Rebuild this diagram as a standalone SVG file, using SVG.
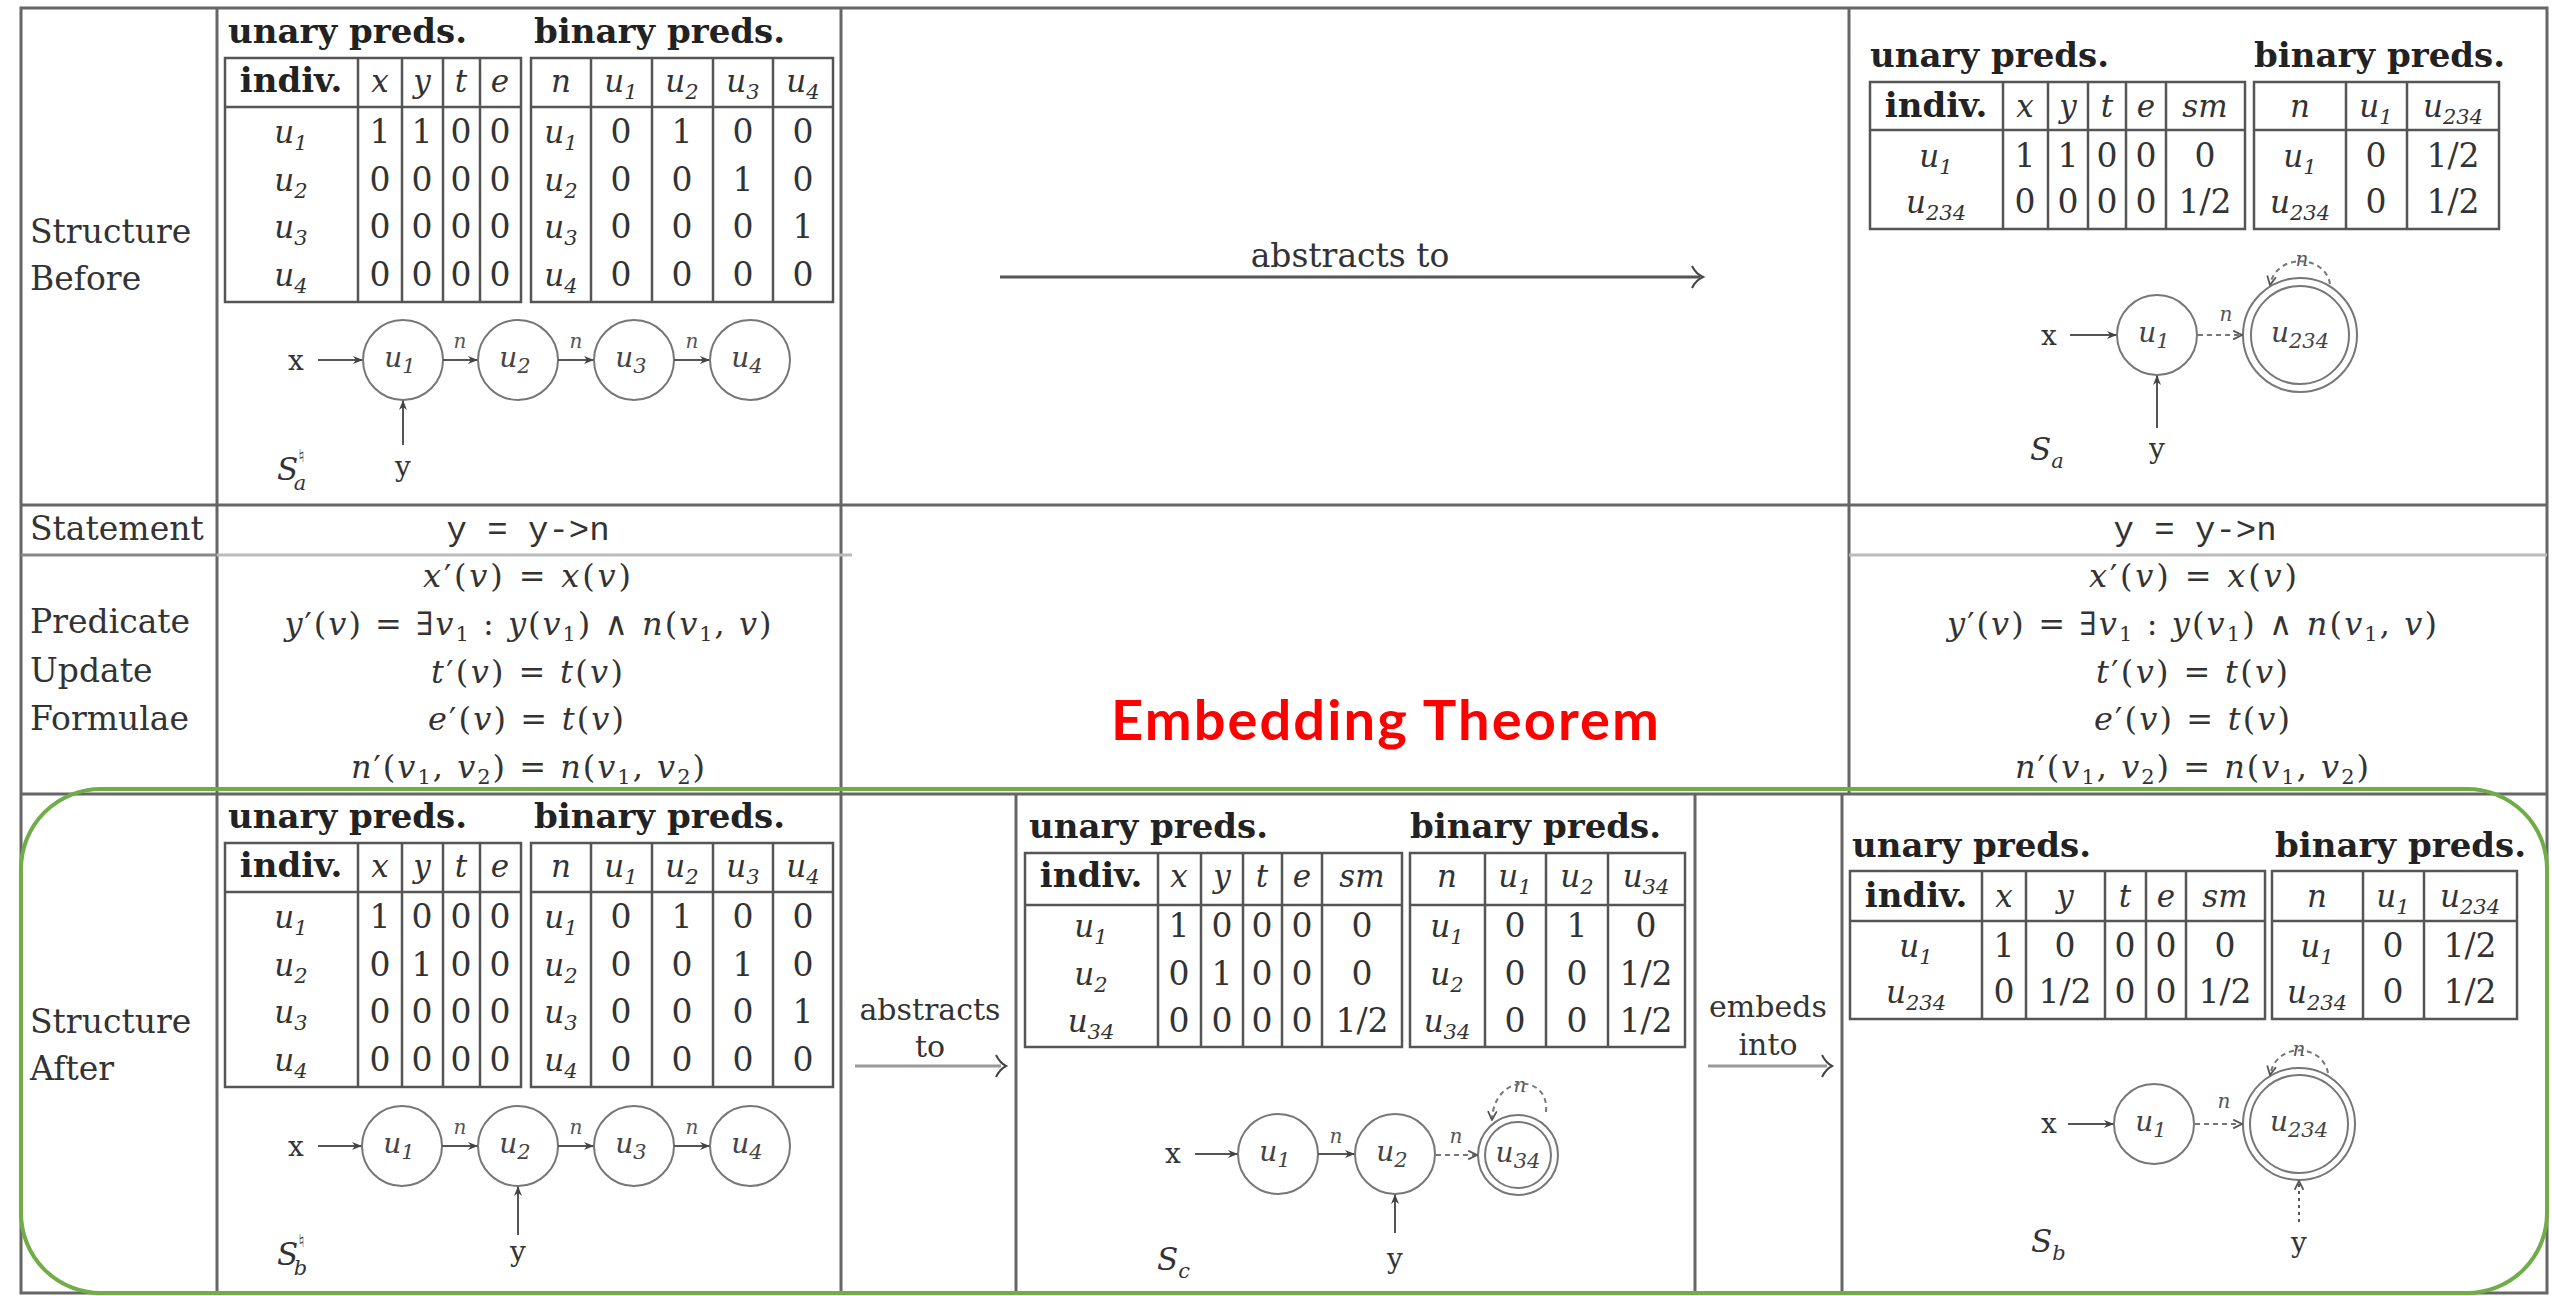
<svg xmlns="http://www.w3.org/2000/svg" width="2552" height="1296" viewBox="0 0 2552 1296">
<defs>
<style>
.grid{stroke:#666;stroke-width:3;fill:none}
.lg{stroke:#bbb;stroke-width:3;fill:none}
.tb{stroke:#555;stroke-width:2.5;fill:none}
.t{font-family:'DejaVu Serif',serif;font-size:33px;fill:#333}
.h{font-family:'DejaVu Serif',serif;font-size:34px;font-weight:bold;fill:#222}
.m{font-family:'DejaVu Serif',serif;font-style:italic;font-size:31px;fill:#333}
.f{font-family:'DejaVu Serif',serif;font-size:32px;fill:#333;text-anchor:middle}
.i{font-style:italic}
.s{font-size:21px}
.c{text-anchor:middle}
.r2{font-size:30px}
.d{font-family:'DejaVu Serif',serif;font-size:33px;fill:#333;text-anchor:middle}
.tt{font-family:'Liberation Mono',monospace;font-size:34px;fill:#333;text-anchor:middle}
.node{fill:none;stroke:#777;stroke-width:2}
.nl{font-family:'DejaVu Serif',serif;font-style:italic;font-size:28px;fill:#444;text-anchor:middle}
.gl{font-family:'DejaVu Serif',serif;font-size:28px;fill:#333;text-anchor:middle}
.el{font-family:'DejaVu Serif',serif;font-style:italic;font-size:20px;fill:#555;text-anchor:middle;paint-order:stroke;stroke:#fff;stroke-width:4px}
.edge{stroke:#555;stroke-width:2;fill:none}
.dash{stroke-dasharray:5 4;stroke:#777}
.big{stroke:#555;stroke-width:3;fill:none}
.bigl{stroke:#999;stroke-width:3;fill:none}
.head{stroke:#444;stroke-width:2;fill:none}
</style>
<marker id="ah" viewBox="0 0 10 10" refX="9" refY="5" markerWidth="10" markerHeight="10" markerUnits="userSpaceOnUse" orient="auto"><path d="M0,1 L10,5 L0,9 L3,5 z" fill="#444"/></marker>
<marker id="ao" viewBox="0 0 10 10" refX="9" refY="5" markerWidth="11" markerHeight="11" markerUnits="userSpaceOnUse" orient="auto"><path d="M1,1 L9,5 L1,9" fill="none" stroke="#555" stroke-width="1.6"/></marker>
</defs>
<rect width="2552" height="1296" fill="#fff"/>

<g id="grid">
<rect class="grid" x="21" y="8" width="2526" height="1285"/>
<path class="grid" d="M217 8V1293M841 8V1293M1849 8V794M21 505H2547M21 794H2547M1016 794V1293M1695 794V1293M1842 794V1293"/>
<path d="M21 555H217" stroke="#888" stroke-width="3"/>
<path class="lg" d="M217 555H852M1849 555H2547"/>
</g>

<g id="labels">
<text class="t" x="30" y="243">Structure</text>
<text class="t" x="30" y="290">Before</text>
<text class="t" x="30" y="540">Statement</text>
<text class="t" x="30" y="633">Predicate</text>
<text class="t" x="30" y="682">Update</text>
<text class="t" x="30" y="730">Formulae</text>
<text class="t" x="30" y="1033">Structure</text>
<text class="t" x="30" y="1080">After</text>
</g>

<g id="tbl-before-nat">
<text class="h" x="228" y="43">unary preds.</text>
<text class="h" x="534" y="43">binary preds.</text>
<rect class="tb" x="225" y="58" width="296" height="244"/>
<path class="tb" d="M225 107H521M358 58V302M402 58V302M443 58V302M480 58V302"/>
<rect class="tb" x="531" y="58" width="302" height="244"/>
<path class="tb" d="M531 107H833M591 58V302M652 58V302M713 58V302M773 58V302"/>
<text class="h c" x="291" y="92">indiv.</text>
<text class="m c" y="92"><tspan x="380">x</tspan><tspan x="422">y</tspan><tspan x="461">t</tspan><tspan x="500">e</tspan><tspan x="561">n</tspan></text>
<text class="m c"><tspan x="621" y="92">u<tspan class="s" dy="7">1</tspan></tspan><tspan x="682" y="92">u<tspan class="s" dy="7">2</tspan></tspan><tspan x="743" y="92">u<tspan class="s" dy="7">3</tspan></tspan><tspan x="803" y="92">u<tspan class="s" dy="7">4</tspan></tspan></text>
<text class="m c"><tspan x="291" y="143">u<tspan class="s" dy="7">1</tspan></tspan><tspan x="561" y="143">u<tspan class="s" dy="7">1</tspan></tspan><tspan x="291" y="191">u<tspan class="s" dy="7">2</tspan></tspan><tspan x="561" y="191">u<tspan class="s" dy="7">2</tspan></tspan><tspan x="291" y="238">u<tspan class="s" dy="7">3</tspan></tspan><tspan x="561" y="238">u<tspan class="s" dy="7">3</tspan></tspan><tspan x="291" y="286">u<tspan class="s" dy="7">4</tspan></tspan><tspan x="561" y="286">u<tspan class="s" dy="7">4</tspan></tspan></text>
<text class="d" y="143"><tspan x="380">1</tspan><tspan x="422">1</tspan><tspan x="461">0</tspan><tspan x="500">0</tspan><tspan x="621">0</tspan><tspan x="682">1</tspan><tspan x="743">0</tspan><tspan x="803">0</tspan></text>
<text class="d" y="191"><tspan x="380">0</tspan><tspan x="422">0</tspan><tspan x="461">0</tspan><tspan x="500">0</tspan><tspan x="621">0</tspan><tspan x="682">0</tspan><tspan x="743">1</tspan><tspan x="803">0</tspan></text>
<text class="d" y="238"><tspan x="380">0</tspan><tspan x="422">0</tspan><tspan x="461">0</tspan><tspan x="500">0</tspan><tspan x="621">0</tspan><tspan x="682">0</tspan><tspan x="743">0</tspan><tspan x="803">1</tspan></text>
<text class="d" y="286"><tspan x="380">0</tspan><tspan x="422">0</tspan><tspan x="461">0</tspan><tspan x="500">0</tspan><tspan x="621">0</tspan><tspan x="682">0</tspan><tspan x="743">0</tspan><tspan x="803">0</tspan></text>
</g>

<g id="graph-before-nat">
<g id="n-b-u1"><circle class="node" cx="403" cy="360" r="40"/><text class="nl" x="400" y="367">u<tspan class="s" dy="6">1</tspan></text></g>
<g id="n-b-u2"><circle class="node" cx="518" cy="360" r="40"/><text class="nl" x="515" y="367">u<tspan class="s" dy="6">2</tspan></text></g>
<g id="n-b-u3"><circle class="node" cx="634" cy="360" r="40"/><text class="nl" x="631" y="367">u<tspan class="s" dy="6">3</tspan></text></g>
<g id="n-b-u4"><circle class="node" cx="750" cy="360" r="40"/><text class="nl" x="747" y="367">u<tspan class="s" dy="6">4</tspan></text></g>
<text class="gl" x="296" y="370">x</text>
<text class="gl" x="403" y="476">y</text>
<text class="m" x="277" y="480" font-size="34">S<tspan font-size="18" font-style="normal" dy="-18">♮</tspan><tspan class="s" dx="-11" dy="28">a</tspan></text>
<text class="el" x="460" y="348">n</text><text class="el" x="576" y="348">n</text><text class="el" x="692" y="348">n</text>
</g>

<g id="tbl-after-nat" transform="translate(0,785)">
<text class="h" x="228" y="43">unary preds.</text>
<text class="h" x="534" y="43">binary preds.</text>
<rect class="tb" x="225" y="58" width="296" height="244"/>
<path class="tb" d="M225 107H521M358 58V302M402 58V302M443 58V302M480 58V302"/>
<rect class="tb" x="531" y="58" width="302" height="244"/>
<path class="tb" d="M531 107H833M591 58V302M652 58V302M713 58V302M773 58V302"/>
<text class="h c" x="291" y="92">indiv.</text>
<text class="m c" y="92"><tspan x="380">x</tspan><tspan x="422">y</tspan><tspan x="461">t</tspan><tspan x="500">e</tspan><tspan x="561">n</tspan></text>
<text class="m c"><tspan x="621" y="92">u<tspan class="s" dy="7">1</tspan></tspan><tspan x="682" y="92">u<tspan class="s" dy="7">2</tspan></tspan><tspan x="743" y="92">u<tspan class="s" dy="7">3</tspan></tspan><tspan x="803" y="92">u<tspan class="s" dy="7">4</tspan></tspan></text>
<text class="m c"><tspan x="291" y="143">u<tspan class="s" dy="7">1</tspan></tspan><tspan x="561" y="143">u<tspan class="s" dy="7">1</tspan></tspan><tspan x="291" y="191">u<tspan class="s" dy="7">2</tspan></tspan><tspan x="561" y="191">u<tspan class="s" dy="7">2</tspan></tspan><tspan x="291" y="238">u<tspan class="s" dy="7">3</tspan></tspan><tspan x="561" y="238">u<tspan class="s" dy="7">3</tspan></tspan><tspan x="291" y="286">u<tspan class="s" dy="7">4</tspan></tspan><tspan x="561" y="286">u<tspan class="s" dy="7">4</tspan></tspan></text>
<text class="d" y="143"><tspan x="380">1</tspan><tspan x="422">0</tspan><tspan x="461">0</tspan><tspan x="500">0</tspan><tspan x="621">0</tspan><tspan x="682">1</tspan><tspan x="743">0</tspan><tspan x="803">0</tspan></text>
<text class="d" y="191"><tspan x="380">0</tspan><tspan x="422">1</tspan><tspan x="461">0</tspan><tspan x="500">0</tspan><tspan x="621">0</tspan><tspan x="682">0</tspan><tspan x="743">1</tspan><tspan x="803">0</tspan></text>
<text class="d" y="238"><tspan x="380">0</tspan><tspan x="422">0</tspan><tspan x="461">0</tspan><tspan x="500">0</tspan><tspan x="621">0</tspan><tspan x="682">0</tspan><tspan x="743">0</tspan><tspan x="803">1</tspan></text>
<text class="d" y="286"><tspan x="380">0</tspan><tspan x="422">0</tspan><tspan x="461">0</tspan><tspan x="500">0</tspan><tspan x="621">0</tspan><tspan x="682">0</tspan><tspan x="743">0</tspan><tspan x="803">0</tspan></text>
</g>

<g id="graph-after-nat" transform="translate(0,785)">
<g id="n-a-u1"><circle class="node" cx="402" cy="361" r="40"/><text class="nl" x="399" y="368">u<tspan class="s" dy="6">1</tspan></text></g>
<g id="n-a-u2"><circle class="node" cx="518" cy="361" r="40"/><text class="nl" x="515" y="368">u<tspan class="s" dy="6">2</tspan></text></g>
<g id="n-a-u3"><circle class="node" cx="634" cy="361" r="40"/><text class="nl" x="631" y="368">u<tspan class="s" dy="6">3</tspan></text></g>
<g id="n-a-u4"><circle class="node" cx="750" cy="361" r="40"/><text class="nl" x="747" y="368">u<tspan class="s" dy="6">4</tspan></text></g>
<text class="gl" x="296" y="371">x</text>
<text class="gl" x="518" y="476">y</text>
<text class="m" x="277" y="480" font-size="34">S<tspan font-size="18" font-style="normal" dy="-18">♮</tspan><tspan class="s" dx="-11" dy="28">b</tspan></text>
<text class="el" x="460" y="349">n</text><text class="el" x="576" y="349">n</text><text class="el" x="692" y="349">n</text>
</g>

<g id="tbl-sa">
<text class="h" x="1870" y="67">unary preds.</text>
<text class="h" x="2254" y="67">binary preds.</text>
<rect class="tb" x="1870" y="82" width="375" height="147"/>
<path class="tb" d="M1870 130H2245M2003 82V229M2048 82V229M2088 82V229M2126 82V229M2166 82V229"/>
<rect class="tb" x="2254" y="82" width="245" height="147"/>
<path class="tb" d="M2254 130H2499M2346 82V229M2407 82V229"/>
<text class="h c" x="1936" y="117">indiv.</text>
<text class="m c" y="117"><tspan x="2025">x</tspan><tspan x="2068">y</tspan><tspan x="2107">t</tspan><tspan x="2146">e</tspan><tspan x="2205">sm</tspan><tspan x="2300">n</tspan></text>
<text class="m c"><tspan x="2376" y="117">u<tspan class="s" dy="7">1</tspan></tspan><tspan x="2453" y="117">u<tspan class="s" dy="7">234</tspan></tspan></text>
<text class="m c"><tspan x="1936" y="167">u<tspan class="s" dy="7">1</tspan></tspan><tspan x="2300" y="167">u<tspan class="s" dy="7">1</tspan></tspan><tspan x="1936" y="213">u<tspan class="s" dy="7">234</tspan></tspan><tspan x="2300" y="213">u<tspan class="s" dy="7">234</tspan></tspan></text>
<text class="d" y="167"><tspan x="2025">1</tspan><tspan x="2068">1</tspan><tspan x="2107">0</tspan><tspan x="2146">0</tspan><tspan x="2205">0</tspan><tspan x="2376">0</tspan><tspan x="2453">1/2</tspan></text>
<text class="d" y="213"><tspan x="2025">0</tspan><tspan x="2068">0</tspan><tspan x="2107">0</tspan><tspan x="2146">0</tspan><tspan x="2205">1/2</tspan><tspan x="2376">0</tspan><tspan x="2453">1/2</tspan></text>
</g>

<g id="graph-sa">
<g id="n-sa-u1"><circle class="node" cx="2157" cy="335" r="40"/><text class="nl" x="2154" y="342">u<tspan class="s" dy="6">1</tspan></text></g>
<g id="n-sa-u234"><circle class="node" cx="2300" cy="335" r="57"/><circle class="node" cx="2300" cy="335" r="49"/><text class="nl" x="2300" y="342">u<tspan class="s" dy="6">234</tspan></text></g>
<text class="gl" x="2049" y="345">x</text>
<text class="gl" x="2157" y="458">y</text>
<text class="m" x="2030" y="460" font-size="34">S<tspan class="s" dy="8">a</tspan></text>
<text class="el" x="2226" y="321">n</text>
<text class="el" x="2302" y="266">n</text>
</g>

<g id="tbl-sc">
<text class="h" x="1029" y="838">unary preds.</text>
<text class="h" x="1410" y="838">binary preds.</text>
<rect class="tb" x="1025" y="853" width="377" height="194"/>
<path class="tb" d="M1025 905H1402M1158 853V1047M1201 853V1047M1243 853V1047M1282 853V1047M1322 853V1047"/>
<rect class="tb" x="1410" y="853" width="275" height="194"/>
<path class="tb" d="M1410 905H1685M1485 853V1047M1546 853V1047M1608 853V1047"/>
<text class="h c" x="1091" y="887">indiv.</text>
<text class="m c" y="887"><tspan x="1179">x</tspan><tspan x="1222">y</tspan><tspan x="1262">t</tspan><tspan x="1302">e</tspan><tspan x="1362">sm</tspan><tspan x="1447">n</tspan></text>
<text class="m c"><tspan x="1515" y="887">u<tspan class="s" dy="7">1</tspan></tspan><tspan x="1577" y="887">u<tspan class="s" dy="7">2</tspan></tspan><tspan x="1646" y="887">u<tspan class="s" dy="7">34</tspan></tspan></text>
<text class="m c"><tspan x="1091" y="937">u<tspan class="s" dy="7">1</tspan></tspan><tspan x="1447" y="937">u<tspan class="s" dy="7">1</tspan></tspan><tspan x="1091" y="985">u<tspan class="s" dy="7">2</tspan></tspan><tspan x="1447" y="985">u<tspan class="s" dy="7">2</tspan></tspan><tspan x="1091" y="1032">u<tspan class="s" dy="7">34</tspan></tspan><tspan x="1447" y="1032">u<tspan class="s" dy="7">34</tspan></tspan></text>
<text class="d" y="937"><tspan x="1179">1</tspan><tspan x="1222">0</tspan><tspan x="1262">0</tspan><tspan x="1302">0</tspan><tspan x="1362">0</tspan><tspan x="1515">0</tspan><tspan x="1577">1</tspan><tspan x="1646">0</tspan></text>
<text class="d" y="985"><tspan x="1179">0</tspan><tspan x="1222">1</tspan><tspan x="1262">0</tspan><tspan x="1302">0</tspan><tspan x="1362">0</tspan><tspan x="1515">0</tspan><tspan x="1577">0</tspan><tspan x="1646">1/2</tspan></text>
<text class="d" y="1032"><tspan x="1179">0</tspan><tspan x="1222">0</tspan><tspan x="1262">0</tspan><tspan x="1302">0</tspan><tspan x="1362">1/2</tspan><tspan x="1515">0</tspan><tspan x="1577">0</tspan><tspan x="1646">1/2</tspan></text>
</g>

<g id="graph-sc">
<g id="n-sc-u1"><circle class="node" cx="1278" cy="1154" r="40"/><text class="nl" x="1275" y="1161">u<tspan class="s" dy="6">1</tspan></text></g>
<g id="n-sc-u2"><circle class="node" cx="1395" cy="1154" r="40"/><text class="nl" x="1392" y="1161">u<tspan class="s" dy="6">2</tspan></text></g>
<g id="n-sc-u34"><circle class="node" cx="1518" cy="1155" r="40"/><circle class="node" cx="1518" cy="1155" r="33"/><text class="nl" x="1518" y="1162" font-size="26">u<tspan class="s" dy="6">34</tspan></text></g>
<text class="gl" x="1173" y="1163">x</text>
<text class="gl" x="1395" y="1268">y</text>
<text class="m" x="1157" y="1270" font-size="34">S<tspan class="s" dy="8">c</tspan></text>
<text class="el" x="1336" y="1143">n</text>
<text class="el" x="1456" y="1143">n</text>
<text class="el" x="1520" y="1092">n</text>
</g>

<g id="tbl-sb">
<text class="h" x="1852" y="857">unary preds.</text>
<text class="h" x="2275" y="857">binary preds.</text>
<rect class="tb" x="1850" y="871" width="415" height="148"/>
<path class="tb" d="M1850 921H2265M1982 871V1019M2026 871V1019M2105 871V1019M2146 871V1019M2186 871V1019"/>
<rect class="tb" x="2272" y="871" width="245" height="148"/>
<path class="tb" d="M2272 921H2517M2363 871V1019M2424 871V1019"/>
<text class="h c" x="1916" y="907">indiv.</text>
<text class="m c" y="907"><tspan x="2004">x</tspan><tspan x="2065">y</tspan><tspan x="2125">t</tspan><tspan x="2166">e</tspan><tspan x="2225">sm</tspan><tspan x="2317">n</tspan></text>
<text class="m c"><tspan x="2393" y="907">u<tspan class="s" dy="7">1</tspan></tspan><tspan x="2470" y="907">u<tspan class="s" dy="7">234</tspan></tspan></text>
<text class="m c"><tspan x="1916" y="957">u<tspan class="s" dy="7">1</tspan></tspan><tspan x="2317" y="957">u<tspan class="s" dy="7">1</tspan></tspan><tspan x="1916" y="1003">u<tspan class="s" dy="7">234</tspan></tspan><tspan x="2317" y="1003">u<tspan class="s" dy="7">234</tspan></tspan></text>
<text class="d" y="957"><tspan x="2004">1</tspan><tspan x="2065">0</tspan><tspan x="2125">0</tspan><tspan x="2166">0</tspan><tspan x="2225">0</tspan><tspan x="2393">0</tspan><tspan x="2470">1/2</tspan></text>
<text class="d" y="1003"><tspan x="2004">0</tspan><tspan x="2065">1/2</tspan><tspan x="2125">0</tspan><tspan x="2166">0</tspan><tspan x="2225">1/2</tspan><tspan x="2393">0</tspan><tspan x="2470">1/2</tspan></text>
</g>

<g id="graph-sb">
<g id="n-sb-u1"><circle class="node" cx="2154" cy="1124" r="40"/><text class="nl" x="2151" y="1131">u<tspan class="s" dy="6">1</tspan></text></g>
<g id="n-sb-u234"><circle class="node" cx="2299" cy="1124" r="56"/><circle class="node" cx="2299" cy="1124" r="49"/><text class="nl" x="2299" y="1131">u<tspan class="s" dy="6">234</tspan></text></g>
<text class="gl" x="2049" y="1133">x</text>
<text class="gl" x="2299" y="1252">y</text>
<text class="m" x="2031" y="1252" font-size="34">S<tspan class="s" dy="8">b</tspan></text>
<text class="el" x="2224" y="1108">n</text>
<text class="el" x="2299" y="1056">n</text>
</g>

<g id="statements">
<text class="tt" x="528" y="540">y = y-&gt;n</text>
<text class="tt" x="2195" y="540">y = y-&gt;n</text>
</g>

<g id="formulae-left">
<text class="f" x="527" y="587" textLength="208"><tspan class="i">x</tspan>′(<tspan class="i">v</tspan>) = <tspan class="i">x</tspan>(<tspan class="i">v</tspan>)</text>
<text class="f" x="528" y="635" textLength="487"><tspan class="i">y</tspan>′(<tspan class="i">v</tspan>) = ∃<tspan class="i">v</tspan><tspan class="s" dy="6">1</tspan><tspan dy="-6"> : </tspan><tspan class="i">y</tspan>(<tspan class="i">v</tspan><tspan class="s" dy="6">1</tspan><tspan dy="-6">) ∧ </tspan><tspan class="i">n</tspan>(<tspan class="i">v</tspan><tspan class="s" dy="6">1</tspan><tspan dy="-6">, </tspan><tspan class="i">v</tspan>)</text>
<text class="f" x="527" y="683" textLength="192"><tspan class="i">t</tspan>′(<tspan class="i">v</tspan>) = <tspan class="i">t</tspan>(<tspan class="i">v</tspan>)</text>
<text class="f" x="526" y="730" textLength="196"><tspan class="i">e</tspan>′(<tspan class="i">v</tspan>) = <tspan class="i">t</tspan>(<tspan class="i">v</tspan>)</text>
<text class="f" x="528" y="778" textLength="354"><tspan class="i">n</tspan>′(<tspan class="i">v</tspan><tspan class="s" dy="6">1</tspan><tspan dy="-6">, </tspan><tspan class="i">v</tspan><tspan class="s" dy="6">2</tspan><tspan dy="-6">) = </tspan><tspan class="i">n</tspan>(<tspan class="i">v</tspan><tspan class="s" dy="6">1</tspan><tspan dy="-6">, </tspan><tspan class="i">v</tspan><tspan class="s" dy="6">2</tspan><tspan dy="-6">)</tspan></text>
</g>

<g id="formulae-right">
<text class="f" x="2193" y="587" textLength="208"><tspan class="i">x</tspan>′(<tspan class="i">v</tspan>) = <tspan class="i">x</tspan>(<tspan class="i">v</tspan>)</text>
<text class="f" x="2192" y="635" textLength="490"><tspan class="i">y</tspan>′(<tspan class="i">v</tspan>) = ∃<tspan class="i">v</tspan><tspan class="s" dy="6">1</tspan><tspan dy="-6"> : </tspan><tspan class="i">y</tspan>(<tspan class="i">v</tspan><tspan class="s" dy="6">1</tspan><tspan dy="-6">) ∧ </tspan><tspan class="i">n</tspan>(<tspan class="i">v</tspan><tspan class="s" dy="6">1</tspan><tspan dy="-6">, </tspan><tspan class="i">v</tspan>)</text>
<text class="f" x="2192" y="683" textLength="192"><tspan class="i">t</tspan>′(<tspan class="i">v</tspan>) = <tspan class="i">t</tspan>(<tspan class="i">v</tspan>)</text>
<text class="f" x="2192" y="730" textLength="196"><tspan class="i">e</tspan>′(<tspan class="i">v</tspan>) = <tspan class="i">t</tspan>(<tspan class="i">v</tspan>)</text>
<text class="f" x="2192" y="778" textLength="354"><tspan class="i">n</tspan>′(<tspan class="i">v</tspan><tspan class="s" dy="6">1</tspan><tspan dy="-6">, </tspan><tspan class="i">v</tspan><tspan class="s" dy="6">2</tspan><tspan dy="-6">) = </tspan><tspan class="i">n</tspan>(<tspan class="i">v</tspan><tspan class="s" dy="6">1</tspan><tspan dy="-6">, </tspan><tspan class="i">v</tspan><tspan class="s" dy="6">2</tspan><tspan dy="-6">)</tspan></text>
</g>

<g id="relations">
<text class="t c" x="1350" y="267">abstracts to</text>
<text class="t c r2" x="930" y="1020">abstracts</text>
<text class="t c r2" x="930" y="1057">to</text>
<text class="t c r2" x="1768" y="1017">embeds</text>
<text class="t c r2" x="1768" y="1055">into</text>
</g>

<g id="connectors">
<path class="big" d="M1000 277H1700"/>
<path class="head" d="M1692 266Q1696 274 1703 277Q1696 280 1692 288"/>
<path class="bigl" d="M855 1066H1001"/>
<path class="head" d="M996 1055Q1000 1063 1006 1066Q1000 1069 996 1077"/>
<path class="bigl" d="M1708 1066H1827"/>
<path class="head" d="M1822 1055Q1826 1063 1832 1066Q1826 1069 1822 1077"/>
<path class="edge" d="M318 360H362" marker-end="url(#ah)"/>
<path class="edge" d="M443 360H477" marker-end="url(#ah)"/>
<path class="edge" d="M558 360H593" marker-end="url(#ah)"/>
<path class="edge" d="M674 360H709" marker-end="url(#ah)"/>
<path class="edge" d="M403 445V401" marker-end="url(#ah)"/>
<path class="edge" d="M318 1146H361" marker-end="url(#ah)"/>
<path class="edge" d="M442 1146H477" marker-end="url(#ah)"/>
<path class="edge" d="M558 1146H593" marker-end="url(#ah)"/>
<path class="edge" d="M674 1146H709" marker-end="url(#ah)"/>
<path class="edge" d="M518 1235V1187" marker-end="url(#ah)"/>
<path class="edge" d="M2070 335H2116" marker-end="url(#ah)"/>
<path class="edge dash" d="M2198 335H2242" marker-end="url(#ao)"/>
<path class="edge dash" d="M2330 284C2325 254 2276 253 2270 285" marker-end="url(#ao)"/>
<path class="edge" d="M2157 428V376" marker-end="url(#ah)"/>
<path class="edge" d="M1195 1154H1237" marker-end="url(#ah)"/>
<path class="edge" d="M1318 1154H1354" marker-end="url(#ah)"/>
<path class="edge dash" d="M1436 1155H1477" marker-end="url(#ao)"/>
<path class="edge dash" d="M1546 1112C1550 1074 1494 1072 1492 1120" marker-end="url(#ao)"/>
<path class="edge" d="M1395 1233V1195" marker-end="url(#ah)"/>
<path class="edge" d="M2068 1124H2113" marker-end="url(#ah)"/>
<path class="edge dash" d="M2195 1124H2242" marker-end="url(#ao)"/>
<path class="edge dash" d="M2328 1073C2322 1043 2276 1042 2270 1075" marker-end="url(#ao)"/>
<path class="edge" d="M2299 1222V1181" stroke-dasharray="3 4" marker-end="url(#ao)"/>
</g>

<g id="annotation">
<text x="1111" y="740" font-family="Lato, 'Open Sans', sans-serif" font-weight="bold" font-size="56" fill="#FF0000" textLength="548">Embedding Theorem</text>
<rect x="21" y="789" width="2526" height="504" rx="80" ry="80" fill="none" stroke="#70AD47" stroke-width="4"/>
</g>
</svg>
